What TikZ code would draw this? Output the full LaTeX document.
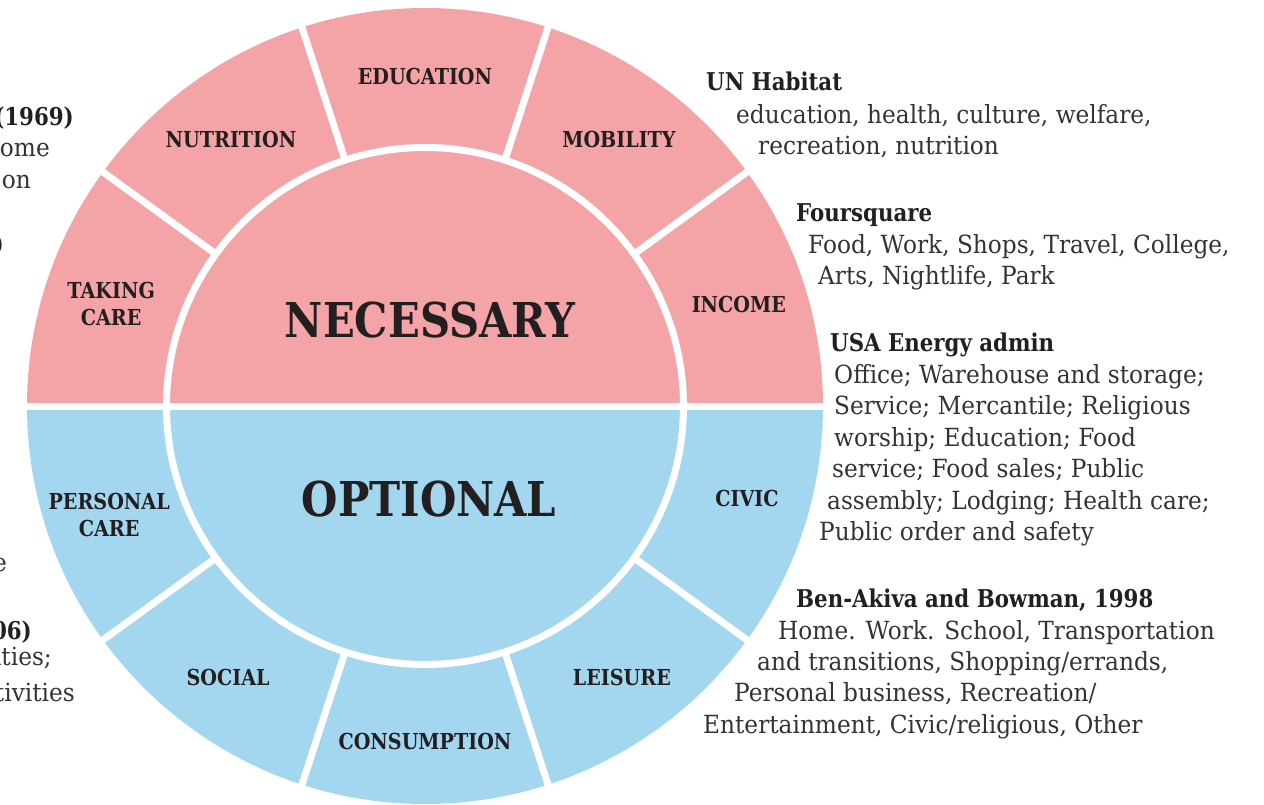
\documentclass[tikz,border=0pt]{standalone}
\usepackage{fontspec}
\setmainfont{DejaVu Serif}[FakeStretch=0.93]
\newfontfamily\capsfont{DejaVu Serif}[FakeStretch=0.87]
\definecolor{necpink}{HTML}{F4A3A6}
\definecolor{optblue}{HTML}{A3D7F0}
\definecolor{ink}{HTML}{231F20}
\definecolor{bodyink}{HTML}{333333}
\tikzset{
  gap/.style={white, line width=7pt},
  sector/.style={font=\capsfont\bfseries\fontsize{22}{27}\selectfont, text=ink, align=center, inner sep=0pt},
  core/.style={font=\capsfont\bfseries\fontsize{48}{50}\selectfont, text=ink, inner sep=0pt},
  head/.style={font=\capsfont\bfseries\fontsize{24.5}{28}\selectfont, text=ink, anchor=base west, inner sep=0pt},
  body/.style={font=\fontsize{25}{31}\selectfont, text=bodyink, anchor=base west, inner sep=0pt},
  cuthead/.style={head, anchor=base east},
  cutbody/.style={body, anchor=base east}
}
\begin{document}
\begin{tikzpicture}[x=1pt,y=1pt]
  \useasboundingbox (-425,-398) rectangle (839,406);
  \clip (-425,-398) rectangle (839,406);

  % the wheel: two halves, then white gaps on top
  \fill[necpink] (398,0) arc[start angle=0, end angle=180, radius=398] -- cycle;
  \fill[optblue] (-398,0) arc[start angle=180, end angle=360, radius=398] -- cycle;
  \draw[gap] (0,0) circle[radius=258.5];
  \draw[gap] (-402,0) -- (402,0);
  \foreach \a in {36,72,108,144,-36,-72,-108,-144}
    \draw[gap] (\a:258) -- (\a:402);

  \node[core] (necessary) at (5,86) {NECESSARY};
  \node[core] (optional) at (4,-93) {OPTIONAL};

  % outer ring, top half
  \node[sector] (takingcare) at (162:330) {TAKING\\CARE};
  \node[sector] (nutrition) at (126:330) {NUTRITION};
  \node[sector] (education) at (90:330) {EDUCATION};
  \node[sector] (mobility) at (54:330) {MOBILITY};
  \node[sector] (income) at (18:330) {INCOME};
  % outer ring, bottom half
  \node[sector] (personalcare) at (-161:334) {PERSONAL\\CARE};
  \node[sector] (social) at (-126:335) {SOCIAL};
  \node[sector] (consumption) at (-90:335) {CONSUMPTION};
  \node[sector] (leisure) at (-54:335) {LEISURE};
  \node[sector] (civic) at (-16:335) {CIVIC};

  % sources on the right
  \node[head] (unh) at (281,316) {UN Habitat};
  \node[body] (unh1) at (311,283) {education, health, culture, welfare,};
  \node[body] (unh2) at (333,252) {recreation, nutrition};

  \node[head] (fsq) at (371,185) {Foursquare};
  \node[body] (fsq1) at (383,153) {Food, Work, Shops, Travel, College,};
  \node[body] (fsq2) at (393,122) {Arts, Nightlife, Park};

  \node[head] (usa) at (405,55) {USA Energy admin};
  \node[body] (usa1) at (409,23) {Office; Warehouse and storage;};
  \node[body] (usa2) at (409,-8) {Service; Mercantile; Religious};
  \node[body] (usa3) at (409,-40) {worship; Education; Food};
  \node[body] (usa4) at (407,-71) {service; Food sales; Public};
  \node[body] (usa5) at (402,-103) {assembly; Lodging; Health care;};
  \node[body] (usa6) at (394,-134) {Public order and safety};

  \node[head] (ben) at (371,-201) {Ben-Akiva and Bowman, 1998};
  \node[body] (ben1) at (353,-233) {Home. Work. School, Transportation};
  \node[body] (ben2) at (332,-264) {and transitions, Shopping/errands,};
  \node[body] (ben3) at (309,-295) {Personal business, Recreation/};
  \node[body] (ben4) at (278,-327) {Entertainment, Civic/religious, Other};

  % sources on the left, running off the edge
  \node[cuthead] (left1) at (-351,280) {(1969)};
  \node[cutbody] (left1a) at (-375,250) {ome};
  \node[cutbody] (left1b) at (-394,218) {on};
  \node[cuthead] (left2) at (-421,154) {)};
  \node[cutbody] (left3) at (-418,-165) {e};
  \node[cuthead] (left4) at (-393,-233) {06)};
  \node[cutbody] (left4a) at (-373,-259) {ities;};
  \node[cutbody] (left4b) at (-350,-295) {ctivities};
\end{tikzpicture}
\end{document}
